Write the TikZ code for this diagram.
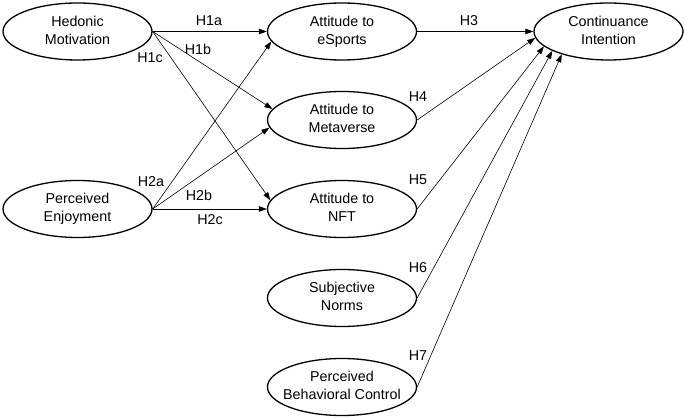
\documentclass[tikz,border=0pt]{standalone}
\usepackage{fontspec}
\setmainfont{Liberation Sans}
\usetikzlibrary{shapes.geometric,arrows.meta}
\newcommand{\twol}[2]{\makebox[0pt]{\begin{tabular}{@{}c@{}}#1\\#2\end{tabular}}}
\tikzset{
  el/.style={ellipse, draw, line width=1.3pt, minimum width=149pt, minimum height=57pt, inner sep=0pt},
  arr/.style={-{Triangle[length=8pt,width=5.5pt]}, line width=0.6pt},
  hlab/.style={inner sep=0pt}
}
\begin{document}
\begin{tikzpicture}[x=1pt,y=-1pt,font=\fontsize{14.3}{18}\selectfont]
\useasboundingbox (0,0) rectangle (685,419);
\node[el] (hm) at (77.5,31.5) {\twol{Hedonic}{Motivation}};
\node[el] (pe) at (77.5,209) {\twol{Perceived}{Enjoyment}};
\node[el] (ae) at (342,31.5) {\twol{Attitude to}{eSports}};
\node[el] (am) at (342,120) {\twol{Attitude to}{Metaverse}};
\node[el] (an) at (342,209) {\twol{Attitude to}{NFT}};
\node[el] (sn) at (342,298) {\twol{Subjective}{Norms}};
\node[el] (pbc) at (342,387) {\twol{Perceived}{Behavioral Control}};
\node[el] (ci) at (608.5,31.5) {\twol{Continuance}{Intention}};

\draw[arr] (hm.east) -- (ae.west);
\draw[arr] (hm.east) -- (am.171);
\draw[arr] (hm.east) -- (an.173);
\draw[arr] (pe.east) -- (ae.188);
\draw[arr] (pe.east) -- (am.186);
\draw[arr] (pe.east) -- (an.west);
\draw[arr] (ae.east) -- (ci.west);
\draw[arr] (am.east) -- (ci.185);
\draw[arr] (an.east) -- (ci.193);
\draw[arr] (sn.east) -- (ci.199);
\draw[arr] (pbc.east) -- (ci.206);

\node[hlab] (l1a) at (209,21) {H1a};
\node[hlab] (l1b) at (198,49) {H1b};
\node[hlab] (l1c) at (150,58) {H1c};
\node[hlab] (l2a) at (151,182) {H2a};
\node[hlab] (l2b) at (199,195) {H2b};
\node[hlab] (l2c) at (210,220) {H2c};
\node[hlab] (l3) at (469,21) {H3};
\node[hlab] (l4) at (418,97) {H4};
\node[hlab] (l5) at (418,180) {H5};
\node[hlab] (l6) at (418,268) {H6};
\node[hlab] (l7) at (418,356) {H7};
\end{tikzpicture}
\end{document}
